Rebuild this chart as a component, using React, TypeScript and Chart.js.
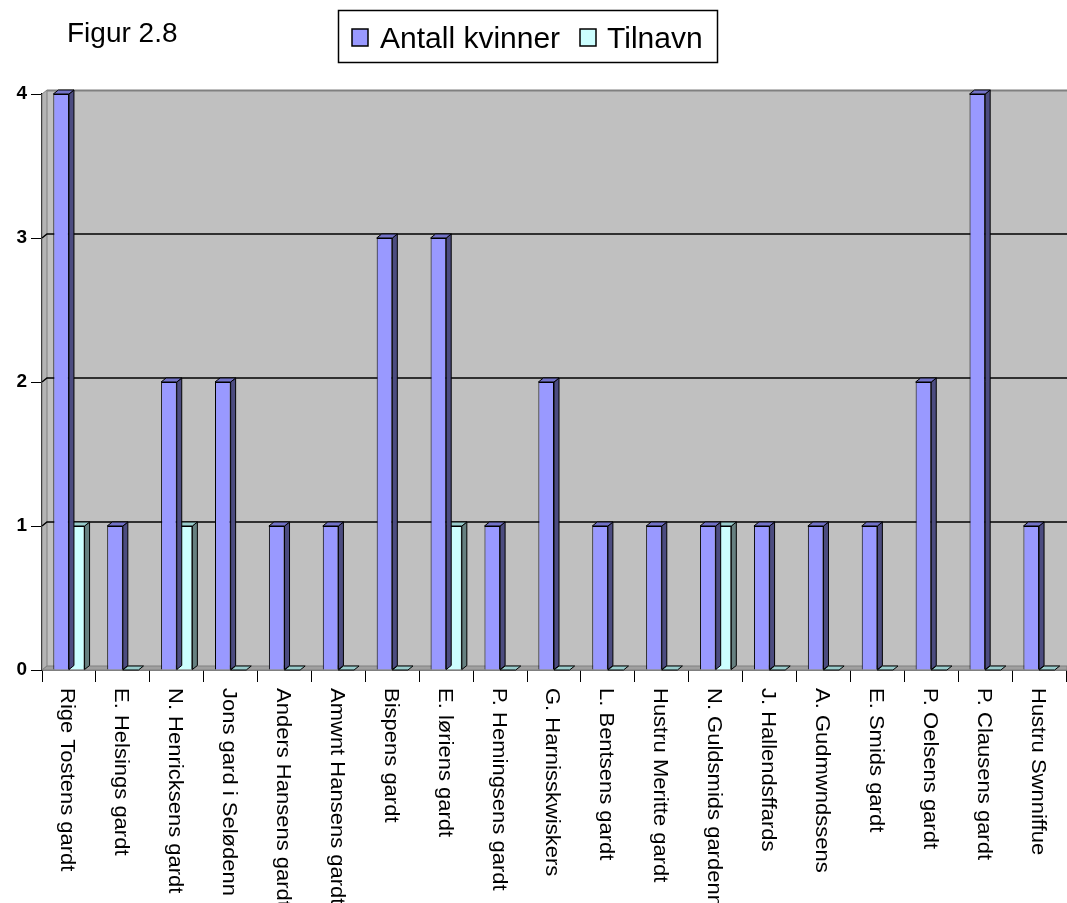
import React, { useEffect, useRef } from "react";
import { Chart, registerables } from "chart.js";

Chart.register(...registerables);

const categories = [
  "Rige Tostens gardt",
  "E. Helsings gardt",
  "N. Henricksens gardt",
  "Jons gard i Selødenn",
  "Anders Hansens gardt",
  "Amwnt Hansens gardt",
  "Bispens gardt",
  "E. løriens gardt",
  "P. Hemingsens gardt",
  "G. Harnisskwiskers",
  "L. Bentsens gardt",
  "Hustru Meritte gardt",
  "N. Guldsmids gardenn",
  "J. Hallendsffards",
  "A. Gudmwndssens",
  "E. Smids gardt",
  "P. Oelsens gardt",
  "P. Clausens gardt",
  "Hustru Swnniffue",
];

const antallKvinner = [4, 1, 2, 2, 1, 1, 3, 3, 1, 2, 1, 1, 1, 1, 1, 1, 2, 4, 1];
const tilnavn = [1, 0, 1, 0, 0, 0, 0, 1, 0, 0, 0, 0, 1, 0, 0, 0, 0, 0, 0];

const seriesNames = ["Antall kvinner", "Tilnavn"];
const yMin = 0;
const yMax = 4;
const figureTitle = "Figur 2.8";

const FONT = "Arial, 'Liberation Sans', sans-serif";
const DX = 5;
const DY = 4;
const faceColors = [
  { front: "#9999FF", side: "#4C4C80", top: "#7373C8" },
  { front: "#CCFFFF", side: "#668080", top: "#99CCCC" },
];

const wallPlugin = {
  id: "wall3d",
  beforeDatasetsDraw(chart: any) {
    const { ctx, chartArea, scales } = chart;
    const { left, top, bottom } = chartArea;
    const W = chart.width;
    ctx.save();
    ctx.fillStyle = "#C0C0C0";
    ctx.fillRect(left + DX, top - DY, W - left - DX, bottom - top);
    ctx.beginPath();
    ctx.moveTo(left, top);
    ctx.lineTo(left + DX, top - DY);
    ctx.lineTo(left + DX, bottom - DY);
    ctx.lineTo(left, bottom);
    ctx.closePath();
    ctx.fillStyle = "#B4B4B4";
    ctx.fill();
    ctx.strokeStyle = "#808080";
    ctx.lineWidth = 1;
    ctx.stroke();
    ctx.beginPath();
    ctx.moveTo(left, bottom);
    ctx.lineTo(left + DX, bottom - DY);
    ctx.lineTo(W, bottom - DY);
    ctx.lineTo(W, bottom);
    ctx.closePath();
    ctx.fillStyle = "#A0A0A0";
    ctx.fill();
    ctx.strokeStyle = "#808080";
    ctx.stroke();
    ctx.beginPath();
    ctx.moveTo(left + DX, top - DY + 0.5);
    ctx.lineTo(W, top - DY + 0.5);
    ctx.lineWidth = 2;
    ctx.strokeStyle = "#808080";
    ctx.stroke();
    const ys = scales.y;
    ctx.lineWidth = 1.5;
    ctx.strokeStyle = "#000";
    for (let v = yMin + 1; v < yMax; v++) {
      const y = ys.getPixelForValue(v);
      ctx.beginPath();
      ctx.moveTo(left, y);
      ctx.lineTo(left + DX, y - DY);
      ctx.lineTo(W, y - DY);
      ctx.stroke();
    }
    ctx.restore();
  },
  afterDatasetDraw(chart: any, args: any) {
    const { ctx } = chart;
    const meta = args.meta;
    const colors = faceColors[args.index];
    ctx.save();
    ctx.lineWidth = 1;
    ctx.strokeStyle = "#000";
    meta.data.forEach((el: any) => {
      const p = el.getProps(["x", "y", "base", "width"], true);
      const l = p.x - p.width / 2;
      const r = p.x + p.width / 2;
      const y = p.y;
      const b = p.base;
      if (b - y > 0.5) {
        ctx.beginPath();
        ctx.moveTo(r, y);
        ctx.lineTo(r + DX, y - DY);
        ctx.lineTo(r + DX, b - DY);
        ctx.lineTo(r, b);
        ctx.closePath();
        ctx.fillStyle = colors.side;
        ctx.fill();
        ctx.stroke();
      }
      ctx.beginPath();
      ctx.moveTo(l, y);
      ctx.lineTo(l + DX, y - DY);
      ctx.lineTo(r + DX, y - DY);
      ctx.lineTo(r, y);
      ctx.closePath();
      ctx.fillStyle = colors.top;
      ctx.fill();
      ctx.stroke();
    });
    ctx.restore();
  },
  afterDraw(chart: any) {
    const { ctx, scales } = chart;
    const xs = scales.x;
    ctx.save();
    ctx.fillStyle = "#000";
    ctx.font = `20px ${FONT}`;
    ctx.textAlign = "left";
    ctx.textBaseline = "middle";
    categories.forEach((label, i) => {
      const x = xs.getPixelForValue(i) - 2;
      ctx.save();
      ctx.translate(x, 688);
      ctx.rotate(Math.PI / 2);
      ctx.scale(1.1, 1);
      ctx.fillText(label, 0, 0);
      ctx.restore();
    });
    ctx.font = `28px ${FONT}`;
    ctx.textBaseline = "alphabetic";
    ctx.fillText(figureTitle, 67, 42);
    ctx.lineWidth = 1.5;
    ctx.strokeStyle = "#000";
    ctx.strokeRect(338.5, 10.5, 379, 52);
    ctx.font = `30px ${FONT}`;
    const items = [
      { sq: 352, tx: 380 },
      { sq: 580, tx: 607 },
    ];
    items.forEach((it, i) => {
      ctx.fillStyle = faceColors[i].front;
      ctx.fillRect(it.sq, 29, 16, 17);
      ctx.lineWidth = 1.5;
      ctx.strokeRect(it.sq, 29, 16, 17);
      ctx.fillStyle = "#000";
      ctx.fillText(seriesNames[i], it.tx, 48);
    });
    ctx.restore();
  },
};

export default function App() {
  const ref = useRef<HTMLCanvasElement>(null);
  useEffect(() => {
    if (!ref.current) return;
    const chart = new Chart(ref.current, {
      type: "bar",
      data: {
        labels: categories,
        datasets: [
          {
            label: seriesNames[0],
            data: antallKvinner,
            backgroundColor: faceColors[0].front,
            borderColor: "#000",
            borderWidth: 1,
            borderSkipped: "start",
            categoryPercentage: 0.58,
            barPercentage: 1,
          },
          {
            label: seriesNames[1],
            data: tilnavn,
            backgroundColor: faceColors[1].front,
            borderColor: "#000",
            borderWidth: 1,
            borderSkipped: "start",
            categoryPercentage: 0.58,
            barPercentage: 1,
          },
        ],
      },
      options: {
        responsive: false,
        animation: false,
        layout: { padding: { top: 94, right: 1, left: 0, bottom: 0 } },
        plugins: { legend: { display: false }, tooltip: { enabled: false } },
        scales: {
          x: {
            grid: {
              display: true,
              drawOnChartArea: false,
              drawTicks: true,
              tickLength: 12,
              color: "#000",
              offset: true,
            },
            border: { display: true, color: "#000", width: 1.5 },
            ticks: { display: false },
            afterFit: (s: any) => {
              s.height = 233;
            },
          },
          y: {
            min: yMin,
            max: yMax,
            ticks: {
              stepSize: 1,
              color: "#000",
              padding: 4,
              font: { family: FONT, size: 19, weight: "bold" },
            },
            grid: { drawOnChartArea: false, tickLength: 11, color: "#000" },
            border: { display: true, color: "#000", width: 1.5 },
            afterFit: (s: any) => {
              s.width = 42;
            },
          },
        },
      },
      plugins: [wallPlugin],
    } as any);
    return () => chart.destroy();
  }, []);
  return (
    <div style={{ position: "absolute", left: 0, top: 0 }}>
      <canvas ref={ref} width={1067} height={903} style={{ display: "block" }} />
    </div>
  );
}
